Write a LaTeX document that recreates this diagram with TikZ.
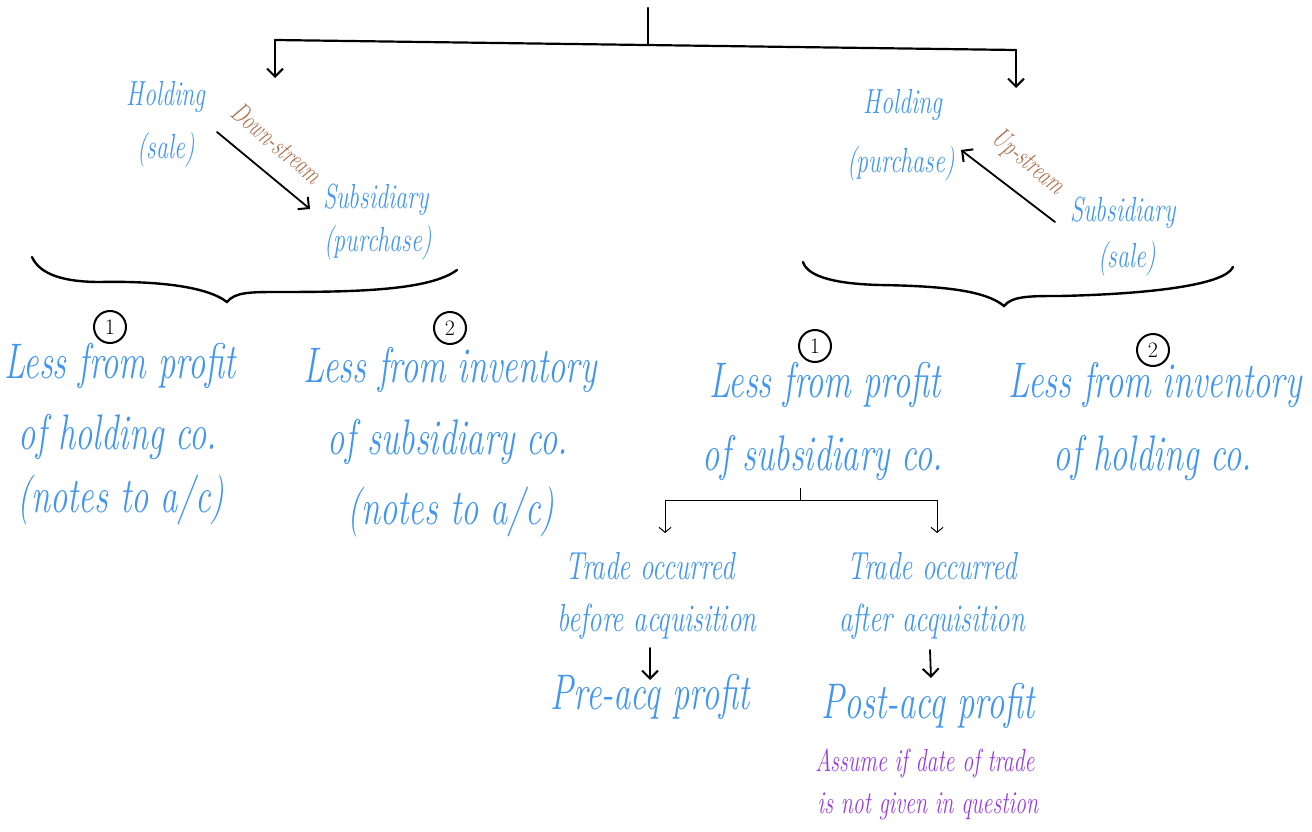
\documentclass[tikz,border=0pt]{standalone}
\usepackage{graphicx}
\usetikzlibrary{arrows.meta}
\definecolor{inkblue}{RGB}{66,150,238}
\definecolor{inkbrown}{RGB}{172,112,78}
\definecolor{inkpurple}{RGB}{150,60,225}
\newcommand{\tall}[1]{\scalebox{1}[1.45]{#1}}
\tikzset{
  pen/.style={line width=2.2pt, black, line cap=round},
  thinpen/.style={line width=1pt, black},
  tip/.style={-{Straight Barb[length=8pt,width=16pt,line width=2pt]}},
  smalltip/.style={-{Straight Barb[length=5pt,width=12pt,line width=1pt]}},
  big/.style={text=inkblue, font=\itshape\fontsize{34.5}{34.5}\selectfont, inner sep=0pt},
  mid/.style={text=inkblue, font=\itshape\fontsize{27}{27}\selectfont, inner sep=0pt},
  small/.style={text=inkblue, font=\itshape\fontsize{24}{24}\selectfont, inner sep=0pt},
  stream/.style={text=inkbrown, font=\itshape\fontsize{19.5}{19.5}\selectfont, inner sep=0pt},
  note/.style={text=inkpurple, font=\itshape\fontsize{22}{22}\selectfont, inner sep=0pt},
  circ/.style={draw, circle, line width=2pt, minimum size=32pt, inner sep=0pt, font=\fontsize{22}{22}\selectfont},
}
\begin{document}
\begin{tikzpicture}[x=1pt, y=-1pt]
\useasboundingbox (0,0) rectangle (1312,832);

% ---- top split ----
\coordinate (t0) at (648,8);
\coordinate (tj) at (648,44);
\coordinate (tl) at (275,40);
\coordinate (tr) at (1016,50);
\coordinate (tlend) at (275,78);
\coordinate (trend) at (1016,88);
\draw[pen] (t0) -- (tj);
\draw[pen] (tl) -- (tr);
\draw[pen, tip] (tl) -- (tlend);
\draw[pen, tip] (tr) -- (trend);

% ---- down-stream (left) ----
\node[small] (hL) at (166,97) {\tall{Holding}};
\node[small] (hLs) at (166,150) {\tall{(sale)}};
\node[small] (sL) at (376,200) {\tall{Subsidiary}};
\node[small] (sLp) at (378,243) {\tall{(purchase)}};
\coordinate (dA) at (217,132);
\coordinate (dB) at (310,209);
\draw[pen, line width=1.8pt, tip] (dA) -- (dB);
\node[stream, rotate=-40] (down) at (277,143) {\tall{Down-stream}};

% ---- up-stream (right) ----
\node[small] (hR) at (903,105) {\tall{Holding}};
\node[small] (hRp) at (901,164) {\tall{(purchase)}};
\node[small] (sR) at (1123,213) {\tall{Subsidiary}};
\node[small] (sRs) at (1127,259) {\tall{(sale)}};
\coordinate (uA) at (1055,222);
\coordinate (uB) at (961,150);
\draw[pen, line width=1.8pt, tip] (uA) -- (uB);
\node[stream, rotate=-40] (up) at (1028,163) {\tall{Up-stream}};

% ---- braces ----
\draw[pen, line width=2.4pt] (32,257) .. controls (40,275) and (65,282) .. (100,282)
  .. controls (150,281) and (205,285) .. (227,302)
  .. controls (235,292) and (250,292) .. (280,292)
  .. controls (360,292) and (430,290) .. (457,270);
\draw[pen, line width=2.4pt] (803,262) .. controls (808,278) and (840,284) .. (880,285)
  .. controls (940,286) and (985,290) .. (1004,306)
  .. controls (1012,296) and (1030,296) .. (1060,296)
  .. controls (1150,294) and (1225,285) .. (1233,267);

% ---- numbered consequences ----
\node[circ] (c1) at (110,327) {1};
\node[circ] (c2) at (450,328) {2};
\node[circ] (c3) at (815,346) {1};
\node[circ] (c4) at (1153,350) {2};

\node[big] (a1) at (120,366) {\tall{Less from profit}};
\node[big] (a2) at (118,437) {\tall{of holding co.}};
\node[big] (a3) at (121,500) {\tall{(notes to a/c)}};

\node[big] (b1) at (450,370) {\tall{Less from inventory}};
\node[big] (b2) at (448,442) {\tall{of subsidiary co.}};
\node[big] (b3) at (451,512) {\tall{(notes to a/c)}};

\node[big] (e1) at (825,385) {\tall{Less from profit}};
\node[big] (e2) at (823,458) {\tall{of subsidiary co.}};

\node[big] (f1) at (1155,385) {\tall{Less from inventory}};
\node[big] (f2) at (1153,458) {\tall{of holding co.}};

% ---- pre / post acquisition split ----
\coordinate (s0) at (800,488);
\coordinate (sj) at (800,500);
\coordinate (sl) at (665,500);
\coordinate (sr) at (937,500);
\coordinate (slend) at (665,533);
\coordinate (srend) at (937,533);
\draw[thinpen] (s0) -- (sj);
\draw[thinpen] (sl) -- (sr);
\draw[thinpen, smalltip] (sl) -- (slend);
\draw[thinpen, smalltip] (sr) -- (srend);

\node[mid] (g1) at (650,566) {\tall{Trade occurred}};
\node[mid] (g2) at (657,622) {\tall{before acquisition}};
\node[mid] (h1) at (932,566) {\tall{Trade occurred}};
\node[mid] (h2) at (932,622) {\tall{after acquisition}};

\coordinate (pA) at (650,648);
\coordinate (pB) at (650,680);
\coordinate (qA) at (930,650);
\coordinate (qB) at (931,678);
\draw[pen, line width=1.8pt, tip] (pA) -- (pB);
\draw[pen, line width=1.8pt, tip] (qA) -- (qB);

\node[big] (pre) at (650,697) {\tall{Pre-acq profit}};
\node[big] (post) at (928,706) {\tall{Post-acq profit}};

\node[note] (n1) at (925,763) {\tall{Assume if date of trade}};
\node[note] (n2) at (928,806) {\tall{is not given in question}};
\end{tikzpicture}
\end{document}
